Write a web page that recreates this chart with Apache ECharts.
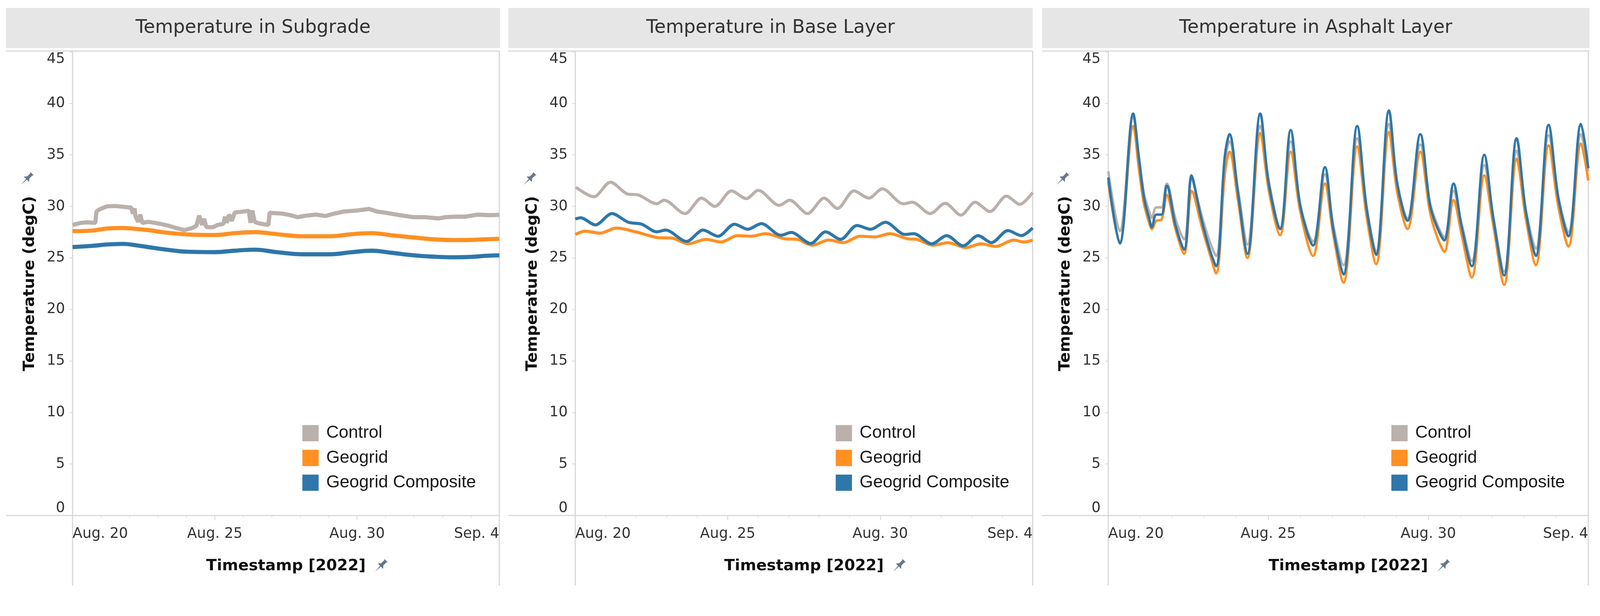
<!DOCTYPE html>
<html>
<head>
    <meta charset="utf-8">
    <title>Pavement temperature</title>
    <script src="https://cdn.jsdelivr.net/npm/echarts/dist/echarts.min.js"></script>
    <style>
        html, body { margin: 0; padding: 0; background: #fff; overflow: hidden; }
        #main { width: 100vw; height: 100vh; }
    </style>
</head>
<body>
    <div id="main"></div>
    <script>
        // x values are days after Aug. 20 2022, y values are degC
        var seriesNames = ['Control', 'Geogrid', 'Geogrid Composite'];
        var panelTitles = ['Temperature in Subgrade', 'Temperature in Base Layer', 'Temperature in Asphalt Layer'];
        var xTickLabels = ['Aug. 20', 'Aug. 25', 'Aug. 30', 'Sep. 4'];

        var subgradeControl = [[0,28.2],[0.3,28.4],[0.49,28.45],[0.8,28.4],[0.84,29.5],[0.94,29.7],[1.2,30.0],[1.48,30.04],[1.8,29.95],[2.06,29.88],[2.12,29.3],[2.18,29.8],[2.21,29.07],[2.3,28.5],[2.38,29.2],[2.45,28.4],[2.65,28.5],[2.9,28.4],[3.15,28.27],[3.4,28.1],[3.64,27.9],[3.93,27.7],[4.2,27.9],[4.35,28.1],[4.45,29.1],[4.55,28.2],[4.62,28.8],[4.7,28.0],[4.92,27.96],[5.1,28.2],[5.3,28.3],[5.36,29.0],[5.42,28.4],[5.5,29.2],[5.6,28.6],[5.7,29.4],[5.8,29.44],[6.0,29.5],[6.2,29.57],[6.25,28.4],[6.32,29.6],[6.4,28.5],[6.55,28.35],[6.88,28.2],[6.93,29.38],[7.37,29.3],[7.65,29.15],[7.91,28.95],[8.2,29.1],[8.55,29.2],[8.89,29.07],[9.2,29.3],[9.53,29.5],[10.0,29.6],[10.42,29.75],[10.7,29.5],[11.0,29.38],[11.5,29.15],[11.99,28.95],[12.4,28.95],[12.87,28.83],[13.1,28.95],[13.46,29.0],[13.8,29.0],[14.25,29.2],[14.6,29.15],[15,29.17]];
        var subgradeGeogrid = [[0,27.6],[0.69,27.65],[1.2,27.85],[1.77,27.9],[2.3,27.8],[2.65,27.7],[3.3,27.45],[4.03,27.28],[5.01,27.22],[5.7,27.4],[6.39,27.5],[7.2,27.3],[8.06,27.1],[9.04,27.1],[9.8,27.3],[10.51,27.4],[11.2,27.2],[12.0,26.98],[12.7,26.8],[13.46,26.73],[14.05,26.75],[14.5,26.8],[15,26.85]];
        var subgradeComposite = [[0,26.05],[0.69,26.17],[1.2,26.3],[1.77,26.36],[2.3,26.2],[2.65,26.05],[3.3,25.8],[4.03,25.6],[5.01,25.56],[5.7,25.7],[6.39,25.8],[7.2,25.55],[8.06,25.35],[9.04,25.35],[9.8,25.55],[10.51,25.7],[11.2,25.5],[12.0,25.25],[12.7,25.12],[13.46,25.06],[14.05,25.1],[14.5,25.2],[15,25.25]];

        var baseControl = [[0.02,31.85],[0.61,30.93],[1.15,32.35],[1.69,31.23],[2.08,31.1],[2.67,30.25],[2.91,30.6],[3.6,29.3],[4.14,30.8],[4.58,30.0],[5.12,31.5],[5.61,30.75],[6.0,31.55],[6.69,30.1],[7.03,30.6],[7.62,29.3],[8.16,30.8],[8.6,29.8],[9.14,31.5],[9.63,30.8],[10.07,31.7],[10.76,30.25],[11.05,30.4],[11.64,29.3],[12.13,30.3],[12.65,29.15],[13.11,30.4],[13.6,29.5],[14.14,31.0],[14.58,30.2],[15,31.35]];
        var baseGeogrid = [[0,27.28],[0.32,27.6],[0.81,27.4],[1.35,27.9],[1.98,27.53],[2.67,26.98],[3.21,26.9],[3.7,26.36],[4.29,26.8],[4.78,26.54],[5.31,27.16],[5.76,27.1],[6.25,27.35],[6.88,26.85],[7.28,26.8],[7.77,26.23],[8.31,26.73],[8.8,26.48],[9.33,27.1],[9.83,27.04],[10.32,27.35],[10.9,26.85],[11.2,26.8],[11.74,26.23],[12.23,26.48],[12.81,25.99],[13.3,26.36],[13.79,26.11],[14.38,26.73],[14.72,26.54],[15,26.73]];
        var baseComposite = [[0,28.77],[0.17,28.9],[0.66,28.2],[1.2,29.3],[1.74,28.46],[2.18,28.27],[2.67,27.53],[2.96,27.7],[3.65,26.6],[4.19,27.7],[4.68,27.1],[5.22,28.27],[5.66,27.78],[6.1,28.33],[6.74,27.2],[7.08,27.47],[7.72,26.4],[8.21,27.53],[8.7,26.8],[9.24,28.15],[9.68,27.78],[10.17,28.46],[10.81,27.28],[11.1,27.35],[11.69,26.36],[12.18,27.16],[12.72,26.17],[13.21,27.16],[13.65,26.48],[14.19,27.65],[14.63,27.16],[15,27.9]];

        var asphaltControl = [[0,33.4],[0.36,27.6],[0.78,38.7],[0.96,34.8],[1.12,31.2],[1.3,29.3],[1.36,28.9],[1.5,29.9],[1.66,29.9],[1.83,32.2],[2.1,28.8],[2.37,26.8],[2.6,32.8],[2.66,32.3],[2.91,29.2],[3.18,26.5],[3.37,25.2],[3.64,34.2],[3.79,36.3],[4.05,31.7],[4.35,26.3],[4.75,37.8],[5.02,32.4],[5.37,27.9],[5.7,36.3],[6.0,30.1],[6.4,26.6],[6.77,33.1],[7.03,28.2],[7.35,24.3],[7.78,36.6],[8.07,30.0],[8.37,25.6],[8.77,38.0],[9.03,32.3],[9.35,28.8],[9.75,36.0],[10.05,30.4],[10.26,28.4],[10.5,27.0],[10.79,31.5],[11.04,28.3],[11.36,24.7],[11.75,34.0],[12.03,29.0],[12.37,23.7],[12.76,35.4],[13.05,29.6],[13.36,25.9],[13.76,36.9],[14.07,30.8],[14.38,27.5],[14.77,37.0],[15,33.4]];
        var asphaltGeogrid = [[0,32.4],[0.36,26.5],[0.78,37.8],[0.96,33.6],[1.12,30.2],[1.3,28.2],[1.36,27.8],[1.5,28.6],[1.66,28.7],[1.83,31.1],[2.1,27.8],[2.37,25.4],[2.6,31.5],[2.66,31.3],[2.91,28.2],[3.18,25.3],[3.37,23.5],[3.64,33.1],[3.79,35.3],[4.05,30.7],[4.35,25.0],[4.75,37.1],[5.02,31.5],[5.37,27.2],[5.7,35.3],[6.0,29.5],[6.4,25.2],[6.77,32.2],[7.03,27.3],[7.35,22.6],[7.78,35.8],[8.07,29.1],[8.37,24.4],[8.77,37.2],[9.03,31.4],[9.35,27.8],[9.75,35.3],[10.05,29.5],[10.26,27.2],[10.5,25.6],[10.79,30.6],[11.04,27.3],[11.36,23.1],[11.75,33.0],[12.03,28.2],[12.37,22.4],[12.76,34.6],[13.05,28.8],[13.36,24.3],[13.76,35.9],[14.07,29.9],[14.38,26.1],[14.77,36.1],[15,32.5]];
        var asphaltComposite = [[0,32.8],[0.36,26.4],[0.78,39.0],[0.96,34.6],[1.12,30.8],[1.28,28.8],[1.36,28.0],[1.5,29.2],[1.66,29.2],[1.83,32.0],[2.1,28.2],[2.37,25.8],[2.6,33.0],[2.66,32.5],[2.91,28.8],[3.18,25.7],[3.37,24.2],[3.64,34.8],[3.79,37.0],[4.05,31.4],[4.35,25.4],[4.75,39.0],[5.02,32.1],[5.37,27.8],[5.7,37.4],[6.0,30.1],[6.4,26.2],[6.77,33.8],[7.03,27.8],[7.35,23.4],[7.78,37.8],[8.07,29.9],[8.37,25.3],[8.77,39.3],[9.03,32.2],[9.35,28.6],[9.75,37.0],[10.05,30.2],[10.26,28.1],[10.5,26.7],[10.79,32.2],[11.04,28.1],[11.36,24.2],[11.75,35.0],[12.03,28.9],[12.37,23.3],[12.76,36.6],[13.05,29.5],[13.36,25.2],[13.76,37.9],[14.07,30.7],[14.38,27.1],[14.77,38.0],[15,33.7]];

        var panelData = [
            [subgradeControl, subgradeGeogrid, subgradeComposite],
            [baseControl, baseGeogrid, baseComposite],
            [asphaltControl, asphaltGeogrid, asphaltComposite]
        ];

        var colors = ['#bab0ac', '#ff9022', '#2e77aa'];
        var lineWidths = [11, 8, 6.5];
        var smoothing = [[false, 0.4, 0.4], [0.3, 0.3, 0.3], [0.35, 0.35, 0.35]];

        var chartDom = document.getElementById('main');
        // layout was measured on a 4233 px wide picture; scale it to the real viewport
        var s = (chartDom.clientWidth || 4233) / 4233;
        function px(v) { return v * s; }

        var headTop = px(21), headBottom = px(127), sepY = px(135);
        var plotTop = px(137), plotBottom = px(1363), frameBottom = px(1548);
        var panels = [
            { x0: px(16), x1: px(1323), left: px(192), right: px(1321) },
            { x0: px(1345), x1: px(2732), left: px(1522), right: px(2732) },
            { x0: px(2757), x1: px(4205), left: px(2932), right: px(4202) }
        ];
        var lineColor = '#d6d6d6';
        // pushpin outline, drawn upright around its centre then tilted
        var pinPoints = [[-6,-21],[6,-21],[4,-18],[4,-7],[10,0],[1.5,0],[0,21],[-1.5,0],[-10,0],[-4,-7],[-4,-18]];

        var myChart = echarts.init(chartDom);

        var grids = [], xAxes = [], yAxes = [], series = [], legends = [], graphics = [];

        function pin(x, y) {
            return {
                type: 'polygon', x: x, y: y, rotation: -Math.PI / 4, scaleX: s, scaleY: s, silent: true,
                shape: { points: pinPoints },
                style: { fill: '#66778a' }
            };
        }

        var titleFont = { fontFamily: 'DejaVu Sans', fontWeight: 'bold', fontSize: px(41), color: '#111' };

        panels.forEach(function (p, i) {
            grids.push({
                left: p.left,
                top: plotTop,
                width: p.right - p.left,
                height: plotBottom - plotTop
            });
            xAxes.push({
                type: 'value',
                gridIndex: i,
                min: 0,
                max: 15,
                interval: 5,
                axisLine: { show: false },
                axisTick: { show: true, length: px(12), lineStyle: { color: lineColor, width: px(2) } },
                minorTick: { show: true, splitNumber: 5, length: px(5), lineStyle: { color: lineColor, width: px(2) } },
                splitLine: { show: false },
                axisLabel: {
                    margin: px(30),
                    fontFamily: 'DejaVu Sans',
                    fontSize: px(38),
                    color: '#333',
                    alignMinLabel: 'left',
                    alignMaxLabel: 'right',
                    formatter: function (v) { return xTickLabels[Math.round(v / 5)]; }
                },
                name: 'Timestamp [2022]',
                nameLocation: 'middle',
                nameGap: px(113),
                nameTextStyle: titleFont
            });
            yAxes.push({
                type: 'value',
                gridIndex: i,
                min: 0,
                max: 45,
                interval: 5,
                axisLine: { show: false },
                axisTick: { show: true, length: px(8), lineStyle: { color: lineColor, width: px(2) } },
                splitLine: { show: false },
                axisLabel: {
                    margin: px(20),
                    fontFamily: 'DejaVu Sans',
                    fontSize: px(38),
                    color: '#333',
                    verticalAlignMinLabel: 'bottom',
                    verticalAlignMaxLabel: 'top'
                },
                name: 'Temperature (degC)',
                nameLocation: 'middle',
                nameGap: px(92),
                nameTextStyle: titleFont
            });
            panelData[i].forEach(function (d, k) {
                series.push({
                    name: seriesNames[k],
                    type: 'line',
                    xAxisIndex: i,
                    yAxisIndex: i,
                    data: d,
                    showSymbol: false,
                    smooth: smoothing[i][k],
                    color: colors[k],
                    lineStyle: { width: px(lineWidths[i]), color: colors[k] },
                    emphasis: { disabled: true }
                });
            });
            legends.push({
                data: seriesNames,
                orient: 'vertical',
                left: p.right - px(521),
                top: px(1122),
                padding: 0,
                icon: 'rect',
                itemWidth: px(43),
                itemHeight: px(43),
                itemGap: px(19),
                selectedMode: false,
                textStyle: { fontFamily: 'Liberation Sans', fontSize: px(46), color: '#1a1a1a', padding: [0, 0, 0, px(15)] }
            });

            // panel header and frame
            graphics.push(
                { type: 'rect', shape: { x: p.x0, y: headTop, width: p.x1 - p.x0, height: headBottom - headTop }, style: { fill: '#e6e6e6' }, silent: true },
                { type: 'text', x: (p.x0 + p.x1) / 2, y: (headTop + headBottom) / 2, style: { text: panelTitles[i], fontFamily: 'DejaVu Sans', fontSize: px(49), fill: '#333', align: 'center', verticalAlign: 'middle' }, silent: true },
                { type: 'line', shape: { x1: p.x0, y1: sepY, x2: p.x1, y2: sepY }, style: { stroke: lineColor, lineWidth: px(3) }, silent: true },
                { type: 'line', shape: { x1: p.x0, y1: plotBottom, x2: p.right, y2: plotBottom }, style: { stroke: lineColor, lineWidth: px(3) }, silent: true },
                { type: 'line', shape: { x1: p.left, y1: plotTop, x2: p.left, y2: frameBottom }, style: { stroke: lineColor, lineWidth: px(3) }, silent: true },
                { type: 'line', shape: { x1: p.right, y1: sepY, x2: p.right, y2: frameBottom }, style: { stroke: lineColor, lineWidth: px(3) }, silent: true },
                pin(p.left - px(122), px(474)),
                pin((p.left + p.right) / 2 + px(250), px(1497))
            );
        });

        var option = {
            animation: false,
            backgroundColor: '#fff',
            grid: grids,
            xAxis: xAxes,
            yAxis: yAxes,
            legend: legends,
            series: series,
            graphic: { elements: graphics }
        };

        option && myChart.setOption(option);
    </script>
</body>
</html>
